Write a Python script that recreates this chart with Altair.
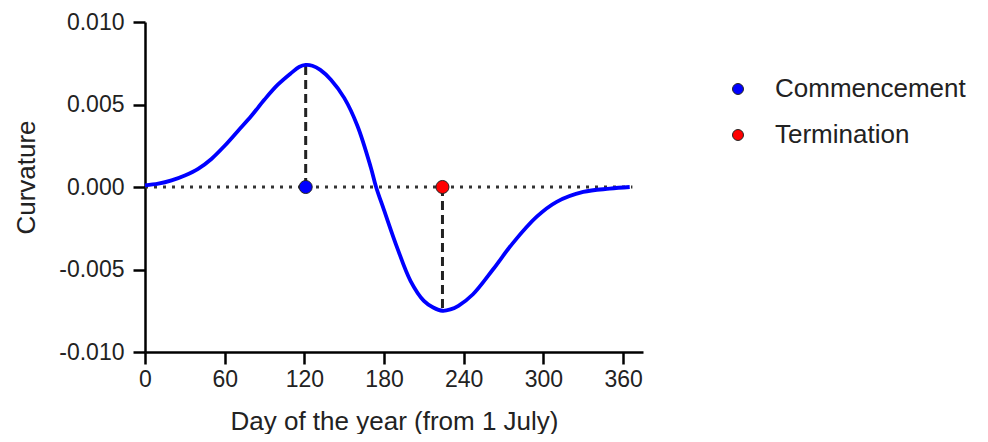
import altair as alt
import pandas as pd

# Curve
days = [0, 10, 20, 30, 40, 50, 60, 70, 80, 90, 100, 110, 116, 121, 126, 132, 140, 150, 160, 170, 174,
        180, 190, 200, 210, 217, 224, 230, 236, 247, 262, 277, 295, 310, 330, 350, 365]
curvature = [0.0001, 0.0002, 0.0004, 0.0007, 0.0011, 0.0017, 0.0025, 0.0034, 0.0043, 0.0053,
             0.0062, 0.0069, 0.00727, 0.0074, 0.00735, 0.0071, 0.0065, 0.0054, 0.0037, 0.0012, 0.0,
             -0.0014, -0.0037, -0.0057, -0.0069, -0.0073, -0.0075, -0.00742, -0.0072, -0.0065, -0.0050,
             -0.0034, -0.0018, -0.0009, -0.0003, -0.0001, 0.0]

# Events
event_names = ["Commencement", "Termination"]
event_days = [121, 224]
event_peaks = [0.0074, -0.0075]
event_colors = ["#0000ff", "#ff0000"]

# Zero reference line extent
zero_start = [0]
zero_end = [367]

# Axis ticks
x_ticks = [0, 60, 120, 180, 240, 300, 360]
y_ticks = [-0.010, -0.005, 0.0, 0.005, 0.010]

curve_df = pd.DataFrame({"day": days, "curvature": curvature})
ev_df = pd.DataFrame({"event": event_names, "day": event_days, "peak": event_peaks,
                      "curvature": [0.0] * len(event_names)})
zero_df = pd.DataFrame({"day": zero_start, "day2": zero_end, "curvature": [0.0]})

x_scale = alt.Scale(domain=[0, 375], nice=False, zero=False)
y_scale = alt.Scale(domain=[-0.01, 0.01], nice=False)

x_axis = alt.Axis(values=x_ticks, format="d", title="Day of the year (from 1 July)",
                  tickSize=12, labelPadding=4, labelFlush=False,
                  titleY=77, titleBaseline="alphabetic")
y_axis = alt.Axis(values=y_ticks, title="Curvature", tickSize=12, labelPadding=9,
                  labelExpr="replace(format(datum.value, '.3f'), '\u2212', '-')",
                  titleX=-119, titleY=155, titleBaseline="middle")

zero = alt.Chart(zero_df).mark_rule(strokeDash=[3, 6], strokeWidth=3, color="#333").encode(
    x=alt.X("day:Q", scale=x_scale, axis=x_axis),
    x2="day2:Q",
    y=alt.Y("curvature:Q", scale=y_scale, axis=y_axis),
)

vlines = alt.Chart(ev_df).mark_rule(strokeDash=[9, 5], strokeWidth=3, color="#222").encode(
    x=alt.X("day:Q", scale=x_scale),
    y=alt.Y("curvature:Q", scale=y_scale),
    y2="peak:Q",
)

line = alt.Chart(curve_df).mark_line(color="#0000ff", strokeWidth=3.8, interpolate="catmull-rom").encode(
    x=alt.X("day:Q", scale=x_scale),
    y=alt.Y("curvature:Q", scale=y_scale),
)

points = alt.Chart(ev_df).mark_point(filled=True, size=170, stroke="#222", strokeWidth=1,
                                     opacity=1, shape="circle").encode(
    x=alt.X("day:Q", scale=x_scale),
    y=alt.Y("curvature:Q", scale=y_scale),
    color=alt.Color("event:N", scale=alt.Scale(domain=event_names, range=event_colors),
                    title=None,
                    legend=alt.Legend(orient="none", legendX=580, legendY=54,
                                      symbolSize=120, symbolType="circle",
                                      symbolStrokeColor="#222", symbolStrokeWidth=1,
                                      labelOffset=24, rowPadding=20, labelLimit=400,
                                      labelFontSize=26)),
)

chart = alt.layer(zero, vlines, line, points).properties(
    width=498, height=330,
    autosize=alt.AutoSizeParams(type="none"),
    padding={"left": 137, "top": 14, "right": 337, "bottom": 82},
).configure_view(stroke=None).configure_axis(
    domainColor="black", domainWidth=2.5, tickColor="black", tickWidth=2.5, grid=False,
    labelFont="Liberation Sans", titleFont="Liberation Sans", labelFontSize=23,
    titleFontSize=26, labelColor="#222", titleColor="#222", titleFontWeight="normal",
).configure_legend(
    labelFont="Liberation Sans", labelColor="#222",
)

chart.save("out.html", embed_options={"renderer": "svg", "actions": False})
